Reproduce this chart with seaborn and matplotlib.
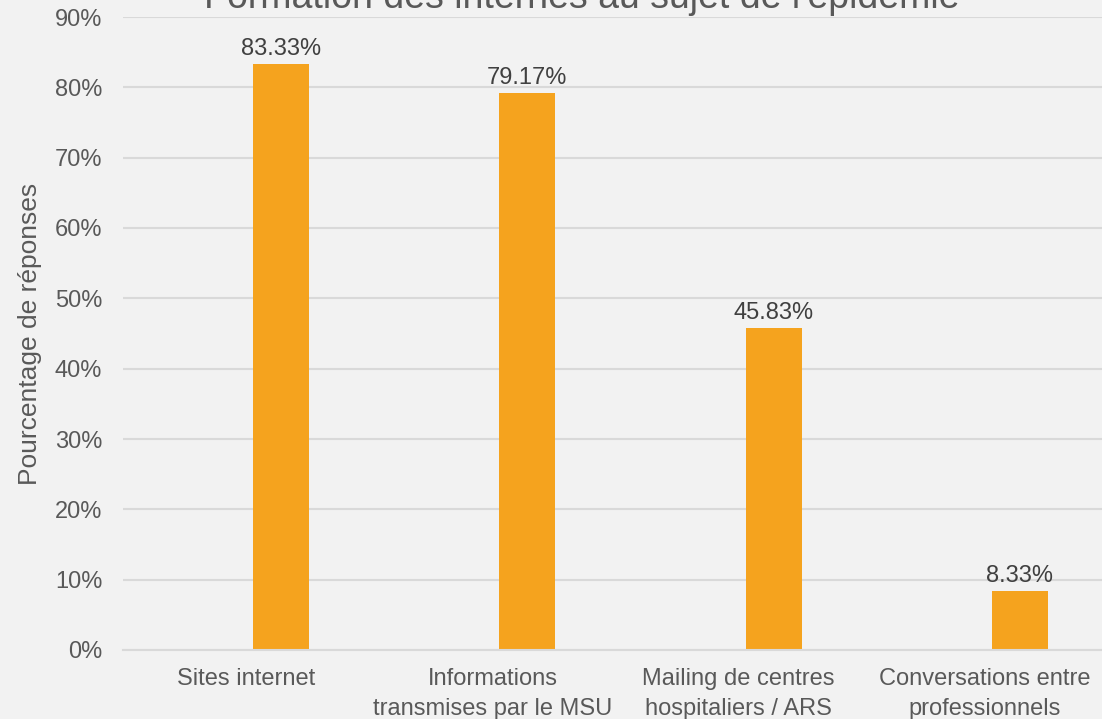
import matplotlib
matplotlib.use("Agg")
import matplotlib.pyplot as plt
import seaborn as sns
import pandas as pd

categories = [
    "Sites internet",
    "Informations\ntransmises par le MSU",
    "Mailing de centres\nhospitaliers / ARS",
    "Conversations entre\nprofessionnels",
]
values = [83.33, 79.17, 45.83, 8.33]
yticks = [0, 10, 20, 30, 40, 50, 60, 70, 80, 90]

title = "Formation des internes au sujet de l'épidémie"
ylabel = "Pourcentage de réponses"

bg = "#f2f2f2"
bar_color = "#f5a31e"
grid_color = "#d9d9d9"
text_gray = "#595959"
label_gray = "#404040"

# bars sit right of the category centre, like in the original Excel chart
bar_shift = 0.142

sns.set_theme(style="whitegrid")
plt.rcParams["font.family"] = ["Liberation Sans", "DejaVu Sans"]

df = pd.DataFrame({"cat": categories, "val": values})

fig = plt.figure(figsize=(11.02, 7.19), dpi=100, facecolor=bg)
ax = fig.add_axes([123 / 1102, 1 - 650 / 719, 1 - 123 / 1102, (650 - 17) / 719])
ax.set_facecolor(bg)

sns.barplot(data=df, x="cat", y="val", color=bar_color, width=0.227,
            saturation=1, linewidth=0, ax=ax)

for p in ax.patches:
    p.set_x(p.get_x() + bar_shift)

ax.set_xlim(-0.5, 3.475)
ax.set_ylim(0, 90)
ax.set_yticks(yticks)
ax.set_yticklabels([f"{t}%" for t in yticks])
ax.grid(axis="y", color=grid_color, linewidth=1.5)
ax.grid(axis="x", visible=False)
ax.set_axisbelow(True)
for s in ax.spines.values():
    s.set_visible(False)
ax.spines["bottom"].set_visible(True)
ax.spines["bottom"].set_color(grid_color)
ax.spines["bottom"].set_linewidth(1.5)

ax.tick_params(axis="y", length=0, pad=15, labelsize=17, labelcolor=text_gray)
ax.tick_params(axis="x", length=0, pad=13, labelsize=17, labelcolor=text_gray)
for t in ax.get_xticklabels():
    t.set_linespacing(1.45)
ax.set_xlabel("")
ax.set_ylabel(ylabel, fontsize=19, color=text_gray, labelpad=9)

for p, v in zip(ax.patches, values):
    ax.annotate(f"{v:.2f}%", (p.get_x() + p.get_width() / 2, v),
                xytext=(0, 6.5), textcoords="offset points",
                ha="center", va="baseline", fontsize=17, color=label_gray)

fig.text(582 / 1102, 1 - 8 / 719, title, ha="center", va="baseline",
         fontsize=27, color=text_gray)

fig.savefig("out.png", dpi=100, facecolor=bg)
